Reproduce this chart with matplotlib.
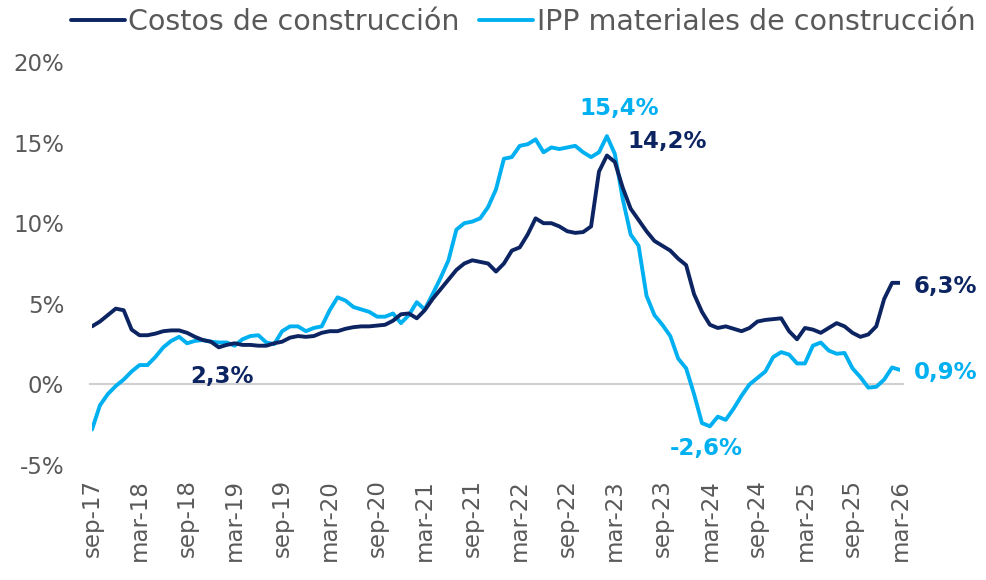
import matplotlib
matplotlib.use("Agg")
import matplotlib.pyplot as plt
import pandas as pd

plt.rcParams['font.family'] = ['DejaVu Sans']

# Monthly dates sep-2017 .. mar-2026
dates = pd.date_range("2017-09-01", "2026-03-01", freq="MS")

costos = [
    3.6, 3.9, 4.3, 4.7, 4.6, 3.4, 3.05, 3.05, 3.15, 3.3,
    3.35, 3.35, 3.2, 2.95, 2.75, 2.65, 2.3, 2.45, 2.55, 2.45,
    2.45, 2.4, 2.4, 2.55, 2.65, 2.9, 3.0, 2.95, 3.0, 3.2,
    3.3, 3.3, 3.45, 3.55, 3.6, 3.6, 3.65, 3.7, 3.95, 4.35,
    4.4, 4.1, 4.6, 5.3, 5.9, 6.5, 7.1, 7.5, 7.7, 7.6,
    7.5, 7.0, 7.5, 8.3, 8.5, 9.3, 10.3, 10.0, 10.0, 9.8,
    9.5, 9.4, 9.45, 9.8, 13.2, 14.2, 13.8, 12.2, 10.9, 10.2,
    9.5, 8.9, 8.6, 8.3, 7.8, 7.4, 5.6, 4.5, 3.7, 3.5,
    3.6, 3.45, 3.3, 3.5, 3.9, 4.0, 4.05, 4.1, 3.3, 2.8,
    3.5, 3.4, 3.2, 3.5, 3.8, 3.6, 3.2, 2.95, 3.1, 3.6,
    5.3, 6.3, 6.3,
]

ipp = [
    -2.8, -1.3, -0.6, -0.1, 0.3, 0.8, 1.2, 1.2, 1.7, 2.3,
    2.7, 2.95, 2.55, 2.7, 2.75, 2.65, 2.6, 2.6, 2.4, 2.8,
    3.0, 3.05, 2.6, 2.5, 3.3, 3.6, 3.6, 3.3, 3.5, 3.6,
    4.6, 5.4, 5.2, 4.8, 4.65, 4.5, 4.2, 4.2, 4.4, 3.8,
    4.3, 5.1, 4.65, 5.6, 6.6, 7.7, 9.6, 10.0, 10.1, 10.3,
    11.0, 12.1, 14.0, 14.1, 14.8, 14.9, 15.2, 14.4, 14.7, 14.6,
    14.7, 14.8, 14.4, 14.1, 14.4, 15.4, 14.3, 11.5, 9.3, 8.6,
    5.5, 4.3, 3.7, 3.0, 1.6, 1.0, -0.6, -2.4, -2.6, -2.0,
    -2.2, -1.5, -0.7, 0.0, 0.4, 0.8, 1.7, 2.0, 1.85, 1.3,
    1.3, 2.4, 2.6, 2.1, 1.9, 1.95, 1.0, 0.45, -0.2, -0.15,
    0.3, 1.05, 0.9,
]

series_names = ["Costos de construcción", "IPP materiales de construcción"]
y_ticks = [-5, 0, 5, 10, 15, 20]
y_tick_labels = ["-5%", "0%", "5%", "10%", "15%", "20%"]
meses = {3: "mar", 9: "sep"}

DARK = "#0C2461"
LIGHT = "#00B0F0"
GRAY = "#595959"

fig = plt.figure(figsize=(9.87, 5.80), dpi=100)
W, H = 987, 580
ax = fig.add_axes([92 / W, (H - 465) / H, (900 - 92) / W, (465 - 62) / H])

x = list(range(len(dates)))
ax.axhline(0, color="#D0D0D0", lw=1.5, zorder=1, xmin=-0.003, xmax=1.004, clip_on=False)
l1, = ax.plot(x, costos, color=DARK, lw=2.8, solid_capstyle="round", solid_joinstyle="round", zorder=3)
l2, = ax.plot(x, ipp, color=LIGHT, lw=2.8, solid_capstyle="round", solid_joinstyle="round", zorder=2)

ax.set_xlim(0, len(dates) - 1)
ax.set_ylim(-5, 20)
ax.set_yticks(y_ticks)
ax.set_yticklabels(y_tick_labels)

xt = [i for i, d in enumerate(dates) if d.month in (3, 9)]
ax.set_xticks(xt)
ax.set_xticklabels([f"{meses[dates[i].month]}-{dates[i].year % 100:02d}" for i in xt], rotation=90)

ax.tick_params(axis="y", length=0, pad=20, labelsize=16.5, labelcolor=GRAY)
ax.tick_params(axis="x", length=0, pad=10, labelsize=16.5, labelcolor=GRAY)
for s in ax.spines.values():
    s.set_visible(False)

def lab(i, val, txt, color, dx, dy, ha="center"):
    ax.annotate(txt, xy=(i, val), xytext=(dx, dy), textcoords="offset pixels",
                ha=ha, va="center", fontsize=16.5, fontweight="bold", color=color)

n = len(dates) - 1
i_pk = ipp.index(max(ipp))
c_pk = costos.index(max(costos))
i_mn = 60 + ipp[60:].index(min(ipp[60:]))
c_mn = costos[:40].index(min(costos[:40]))
lab(i_pk, ipp[i_pk], "15,4%", LIGHT, 12, 28)
lab(c_pk, costos[c_pk], "14,2%", DARK, 60, 14)
lab(n, costos[n], "6,3%", DARK, 14, -4, ha="left")
lab(n, ipp[n], "0,9%", LIGHT, 14, -3, ha="left")
lab(i_mn, ipp[i_mn], "-2,6%", LIGHT, -4, -22)
lab(c_mn, costos[c_mn], "2,3%", DARK, 3, -29)

fig.legend([l1, l2], series_names, loc="center", bbox_to_anchor=(523 / W, 1 - 22 / H),
           ncol=2, frameon=False, fontsize=20.5, labelcolor=GRAY,
           handlelength=1.9, handletextpad=0.12, columnspacing=0.7, borderpad=0, borderaxespad=0)

fig.savefig("out.png", dpi=100)
